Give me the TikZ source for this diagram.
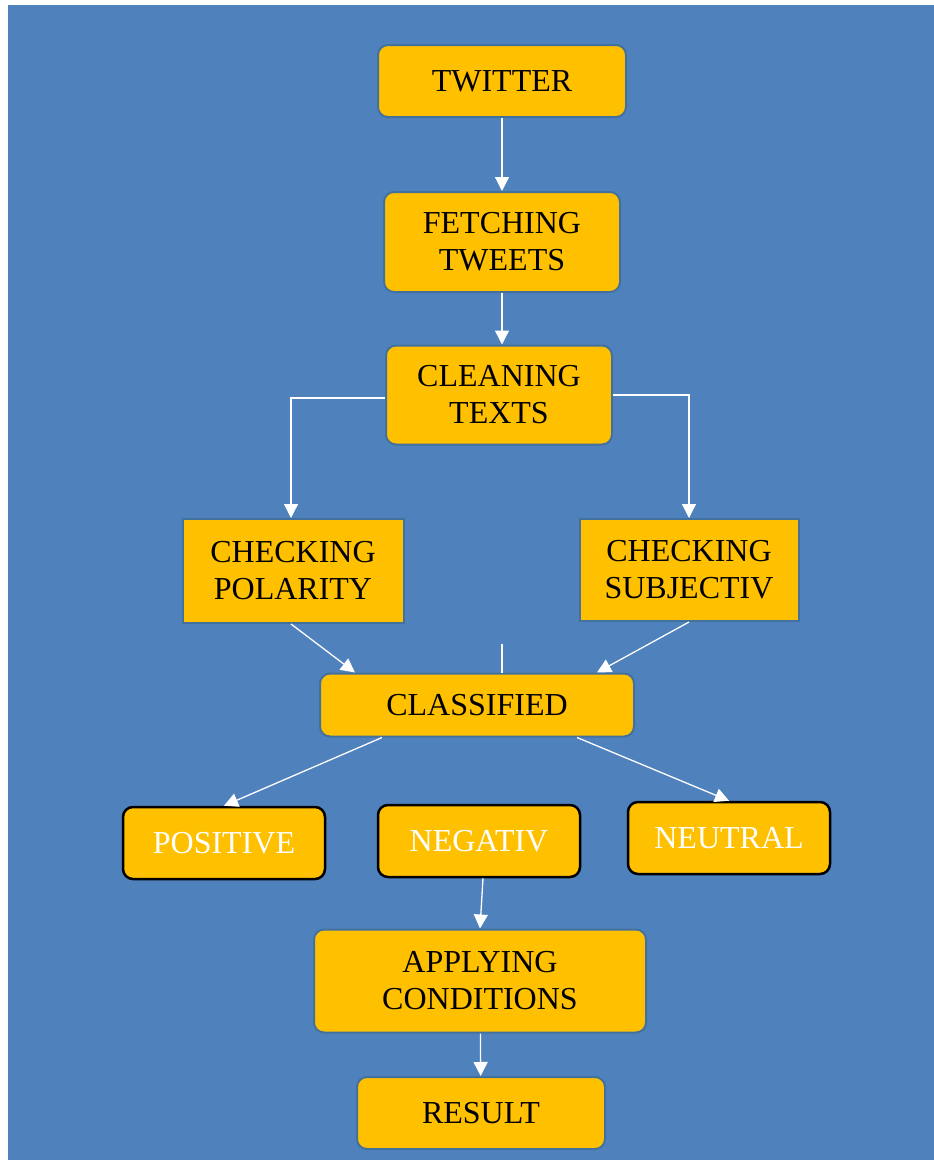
\documentclass[tikz,border=0pt]{standalone}
\usepackage{fontspec}
\setmainfont{Liberation Serif}
\usepackage{tikz}
\usetikzlibrary{calc}
\usetikzlibrary{arrows.meta}
\definecolor{bgblue}{HTML}{4F81BD}
\definecolor{gold}{HTML}{FFC000}
\definecolor{edgeblue}{HTML}{41719C}
\tikzset{
  box/.style={fill=gold, draw=edgeblue, line width=2pt, rounded corners=10pt, inner sep=0pt, align=center, font=\fontsize{32}{37}\selectfont},
  sqbox/.style={box, sharp corners},
  outbox/.style={box, draw=black, line width=2.5pt, text=white},
  arr/.style={draw=white, line width=1.3pt, -{Triangle[width=14pt,length=14pt]}},
  plain/.style={draw=white, line width=1.3pt}
}

\begin{document}
\begin{tikzpicture}[x=1pt,y=-1pt]
        \useasboundingbox (0,0) rectangle (934,1160);
        \fill[bgblue] (8,5) rectangle (934,1160);
        % top column
        \node[box, minimum width=248pt, minimum height=72pt] (twitter) at (502,81) {TWITTER};
        \node[box, minimum width=236pt, minimum height=100pt] (fetch) at (502,242) {FETCHING\\TWEETS};
        \node[box, minimum width=226pt, minimum height=99pt] (clean) at (499,395) {CLEANING\\TEXTS};
        % checks
        \node[sqbox, minimum width=221pt, minimum height=104pt] (polar) at (293,571) {CHECKING\\POLARITY};
        \node[sqbox, minimum width=219pt, minimum height=102pt] (subj) at (689,570) {CHECKING\\SUBJECTIV};
        \node[box, minimum width=314pt, minimum height=63pt] (class) at (477,705) {CLASSIFIED};
        % outcomes
        \node[outbox, minimum width=202pt, minimum height=72pt] (pos) at (224,843) {POSITIVE};
        \node[outbox, minimum width=202pt, minimum height=72pt] (neg) at (479,841) {NEGATIV};
        \node[outbox, minimum width=202pt, minimum height=72pt] (neu) at (729,838) {NEUTRAL};
        % bottom
        \node[box, minimum width=332pt, minimum height=103pt] (apply) at (480,981) {APPLYING\\CONDITIONS};
        \node[box, minimum width=248pt, minimum height=72pt] (result) at (481,1113) {RESULT};
        \coordinate (stray) at (502,644);
        % connectors
        \draw[arr] (twitter) -- (fetch);
        \draw[arr] (fetch.south) -- (fetch.south |- clean.north);
        \draw[arr] ([yshift=-3pt]clean.west) -| ([xshift=-2pt]polar.north);
        \draw[arr] (clean.east) -| (subj.north);
        \draw[arr] ([xshift=-2pt]polar.south) -- ([xshift=36pt]class.north west);
        \draw[arr] (subj.south) -- ([xshift=-38pt]class.north east);
        \draw[plain] (stray) -- (stray |- class.north);
        \draw[arr] ([xshift=63pt]class.south west) -- (pos.north);
        \draw[arr] ([xshift=-58pt]class.south east) -- (neu.north);
        \draw[arr] ([xshift=4pt]neg.south) -- (apply.north);
        \draw[arr] (apply) -- (result);
    \end{tikzpicture}
\end{document}
